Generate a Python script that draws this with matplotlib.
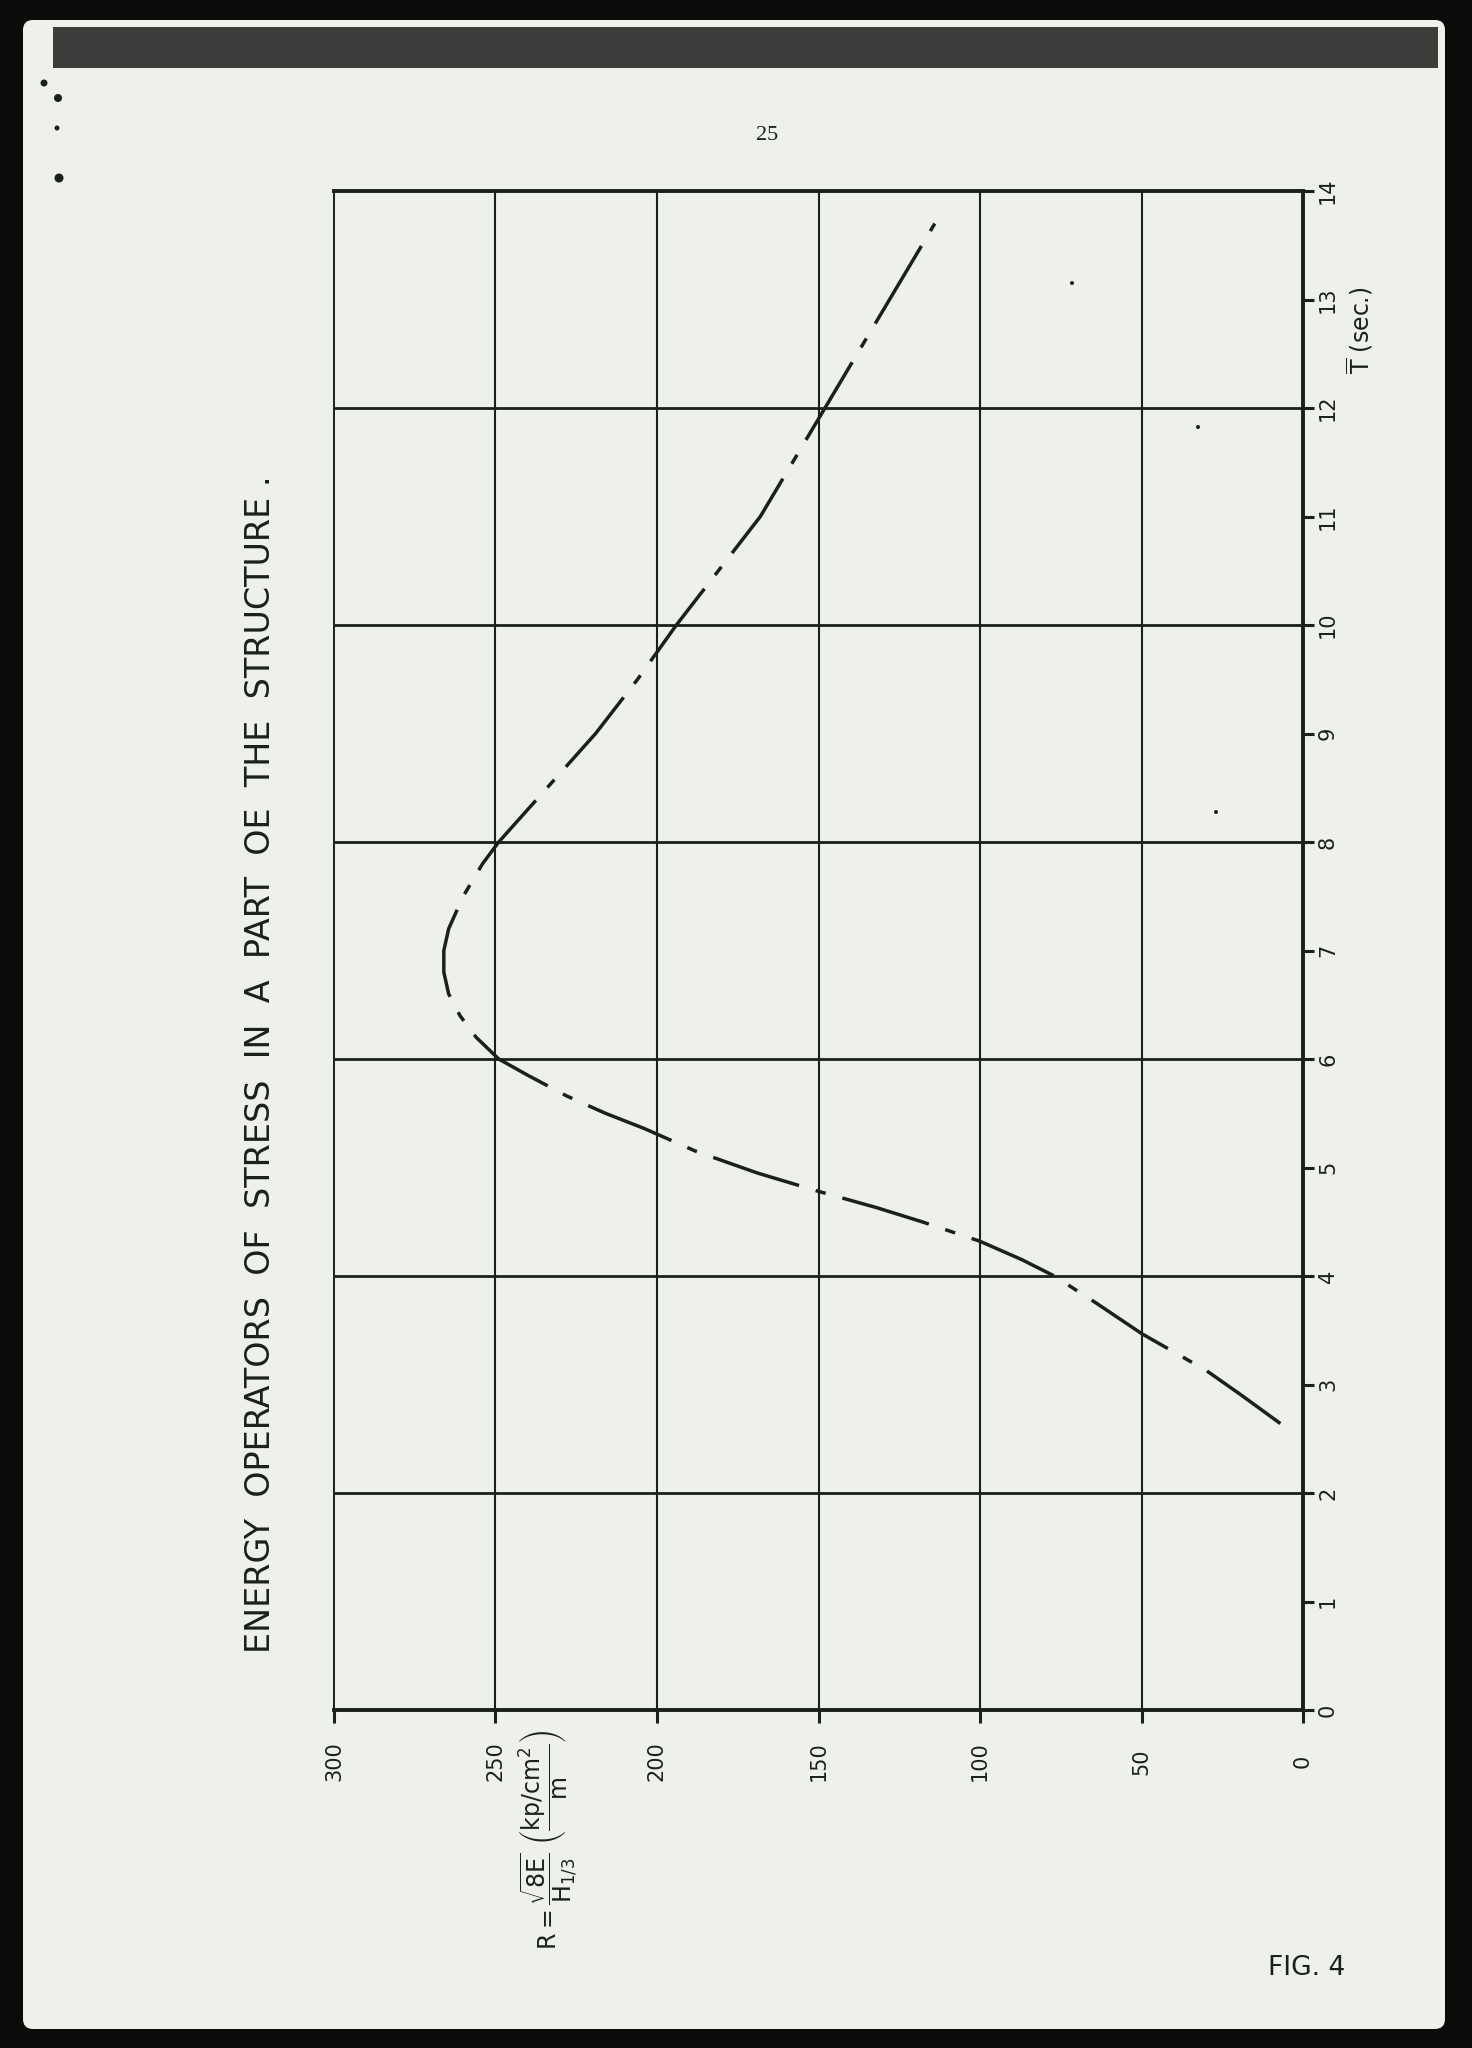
import numpy as np
import matplotlib
matplotlib.use("Agg")
import matplotlib.pyplot as plt
from matplotlib.patches import Rectangle, FancyBboxPatch, Circle

plt.rcParams["mathtext.fontset"] = "dejavusans"
plt.rcParams["mathtext.default"] = "regular"

# ── data ─────────────────────────────────────────────────────────────────────
T_sec = [2.64, 2.9, 3.13, 3.47, 3.75, 4.0, 4.15, 4.32, 4.5, 4.63, 4.78, 4.95,
         5.15, 5.36, 5.5, 5.66, 5.85, 6.0, 6.2, 6.4, 6.6, 6.8, 7.0, 7.2, 7.5,
         7.8, 8.0, 8.5, 9.0, 9.5, 10.0, 10.5, 11.0, 11.5, 12.0, 12.5, 13.0, 13.7]
R_val = [7, 19, 30, 50, 64, 77, 87, 100, 118, 132, 150, 169,
         188, 204, 216, 228, 240, 249, 256, 261, 264.5, 266, 266, 264.5, 260,
         254, 249, 234, 219, 206, 194, 181, 168, 158, 148, 138, 128, 114]

R_TICKS = [0, 50, 100, 150, 200, 250, 300]
T_TICKS = list(range(0, 15))
T_GRID = [2, 4, 6, 8, 10, 12]

TITLE = "ENERGY  OPERATORS  OF  STRESS  IN  A  PART  OE  THE  STRUCTURE ."

# ── colours ──────────────────────────────────────────────────────────────────
PAPER = "#eef1eb"
INK = "#1c201c"

W, H = 1472, 2048
fig = plt.figure(figsize=(W / 100, H / 100), dpi=100, facecolor="#0a0c0a")

# page / scan background
bg = fig.add_axes([0, 0, 1, 1])
bg.set_xlim(0, W)
bg.set_ylim(H, 0)
bg.axis("off")
bg.add_patch(FancyBboxPatch((23, 20), 1445 - 23, 2029 - 20,
                            boxstyle="round,pad=0,rounding_size=10",
                            fc=PAPER, ec="none"))
bg.add_patch(Rectangle((53, 27), 1438 - 53, 41, fc="#3a3d39", ec="none"))
for (cx, cy, r) in [(44, 83, 3.5), (58, 98, 4), (57, 128, 2.5), (59, 178, 4.5),
                    (1072, 283, 2), (1198, 427, 2), (1216, 812, 2)]:
    bg.add_patch(Circle((cx, cy), r, fc=INK, ec="none"))

# ── main chart ───────────────────────────────────────────────────────────────
ax = fig.add_axes([334 / W, 1 - 1710 / H, (1303 - 334) / W, (1710 - 191) / H])
ax.patch.set_alpha(0)
ax.set_xlim(300, 0)
ax.set_ylim(0, 14)

for r in R_TICKS[1:-1]:
    ax.axvline(r, color=INK, lw=1.5, zorder=1)
for t in T_GRID:
    ax.axhline(t, color=INK, lw=2.0, zorder=1)

ax.plot(R_val, T_sec, color=INK, lw=2.5, ls=(0, (26, 5, 3, 5)),
        dash_capstyle="butt", zorder=3)

for side, lw in [("left", 1.4), ("right", 2.8), ("top", 2.8), ("bottom", 2.8)]:
    ax.spines[side].set_linewidth(lw)
    ax.spines[side].set_color(INK)

ax.set_xticks(R_TICKS)
ax.set_xticklabels([str(v) for v in R_TICKS])
ax.tick_params(axis="x", direction="out", length=9, width=2.2, pad=28,
               labelsize=15, labelrotation=90, colors=INK)
for lb in ax.get_xticklabels():
    lb.set_va("center")

ax.yaxis.tick_right()
ax.set_yticks(T_TICKS)
ax.set_yticklabels([str(v) for v in T_TICKS])
ax.tick_params(axis="y", direction="out", length=8, width=2.2, pad=10,
               labelsize=15, labelrotation=90, colors=INK)
for lb in ax.get_yticklabels():
    lb.set_ha("center")
    lb.set_va("center")

# ── texts ────────────────────────────────────────────────────────────────────
fig.text(261 / W, 1 - 1064 / H, TITLE, rotation=90, ha="center", va="center",
         fontsize=24, color=INK)
fig.text(548 / W, 1 - 1840 / H,
         r"$R = \dfrac{\sqrt{8E}}{H_{1/3}}\ \left(\dfrac{kp/cm^{2}}{m}\right)$",
         rotation=90, ha="center", va="center", fontsize=17, color=INK)
fig.text(1360 / W, 1 - 330 / H, r"$\overline{T}$ (sec.)", rotation=90,
         ha="center", va="center", fontsize=17, color=INK)
fig.text(1307 / W, 1 - 1968 / H, "FIG. 4", ha="center", va="center",
         fontsize=19, color=INK)
fig.text(767 / W, 1 - 136 / H, "25", ha="center", va="center",
         fontsize=16, color=INK, family="Liberation Serif")

fig.savefig("out.png", dpi=100, facecolor=fig.get_facecolor())
